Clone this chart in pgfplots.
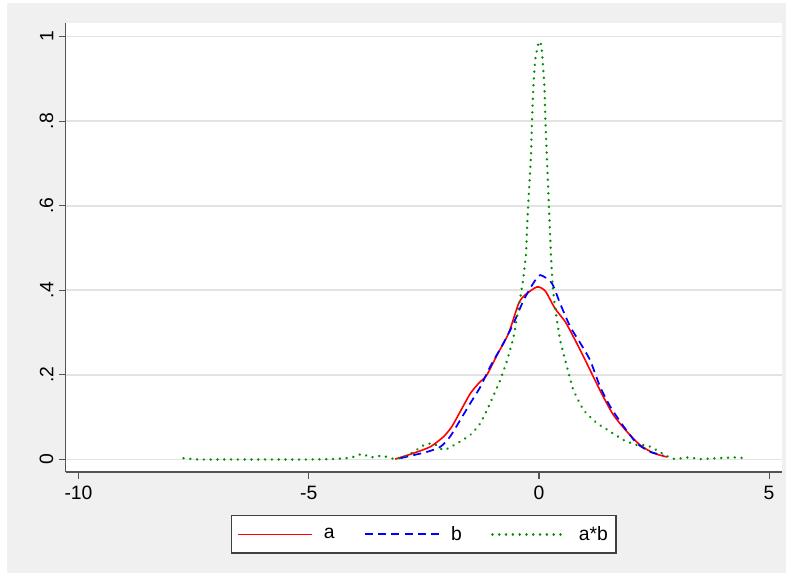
\documentclass[border=0pt]{standalone}
\usepackage{pgfplots}
\pgfplotsset{compat=1.18}
\usepackage{fontspec}
\setmainfont{Liberation Sans}
\definecolor{bggray}{gray}{0.94}
\definecolor{axgray}{gray}{0.33}
\definecolor{gridgray}{gray}{0.89}
\definecolor{stgreen}{rgb}{0.0,0.55,0.0}

\begin{document}
\begin{tikzpicture}
% page 791 x 576 px at 0.75pt per px
\fill[white] (0pt,0pt) rectangle (593.25pt,432pt);
\fill[bggray] (5.25pt,2.25pt) rectangle (589.5pt,429.75pt);
\begin{axis}[
  at={(49.2pt,78pt)}, anchor=south west,
  scale only axis, width=537.3pt, height=336.75pt,
  xmin=-10.28, xmax=5.28, ymin=-0.0296, ymax=1.032,
  axis x line*=bottom, axis y line*=left,
  axis line style={axgray, line width=1.2pt, -},
  axis background/.style={fill=white},
  xtick={-10,-5,0,5}, xticklabels={-10,-5,0,5},
  ytick={0,0.2,0.4,0.6,0.8,1}, yticklabels={0,.2,.4,.6,.8,1},
  tick align=outside, major tick length=5pt,
  tick style={axgray, line width=0.9pt},
  ymajorgrids, grid style={gridgray, line width=1.4pt},
  tick label style={font=\fontsize{14.5}{16}\selectfont},
  yticklabel style={rotate=90, anchor=south, inner sep=4pt},
  xticklabel style={inner sep=5.5pt},
  legend columns=3,
  legend style={at={(axis description cs:0.5,-0.0958)}, anchor=north,
    draw=black!75, line width=1pt, fill=white,
    font=\fontsize{14.5}{16}\selectfont, inner xsep=4pt, inner ysep=6pt,
    /tikz/every odd column/.append style={column sep=6pt},
    /tikz/every even column/.append style={column sep=20pt}},
  legend image code/.code={\draw[#1] (0pt,0pt) -- (56pt,0pt);},
]
\addplot[red, line width=1.2pt, smooth, tension=0.4] coordinates {
(-3.12,0.001)(-2.72,0.015)(-2.36,0.030)(-2.07,0.054)(-1.89,0.078)(-1.71,0.113)
(-1.49,0.156)(-1.31,0.180)(-1.13,0.200)(-0.91,0.247)(-0.66,0.298)(-0.44,0.369)
(-0.30,0.389)(-0.04,0.408)(0.14,0.398)(0.35,0.357)(0.57,0.326)(0.75,0.290)
(0.97,0.243)(1.18,0.196)(1.40,0.148)(1.62,0.105)(1.91,0.066)(2.20,0.034)
(2.49,0.015)(2.78,0.006)};
\addlegendentry{a}
\addplot[blue, line width=1.3pt, dash pattern=on 6pt off 4pt, smooth, tension=0.4] coordinates {
(-3.01,0.003)(-2.43,0.018)(-2.14,0.030)(-1.93,0.054)(-1.71,0.093)(-1.49,0.133)
(-1.27,0.172)(-1.06,0.219)(-0.77,0.275)(-0.55,0.322)(-0.33,0.377)(-0.12,0.417)
(0.03,0.436)(0.28,0.417)(0.46,0.369)(0.68,0.314)(0.90,0.275)(1.11,0.235)
(1.33,0.172)(1.55,0.125)(1.84,0.078)(2.13,0.038)(2.42,0.018)(2.70,0.010)};
\addlegendentry{b}
\addplot[stgreen, line width=1.9pt, line cap=round, dash pattern=on 0.1pt off 5pt, smooth, tension=0.3] coordinates {
(-7.72,0.003)(-7.4,0.000)(-7,0)(-6.5,0)(-6,0)(-5.5,0)(-5,0)(-4.5,0.001)(-4.1,0.004)
(-3.84,0.013)(-3.66,0.005)(-3.50,0.008)(-3.37,0.008)(-3.12,0.001)(-2.90,0.008)
(-2.72,0.018)(-2.50,0.034)(-2.29,0.038)(-2.07,0.022)(-1.78,0.038)(-1.49,0.058)
(-1.27,0.086)(-1.06,0.133)(-0.84,0.188)(-0.69,0.235)(-0.55,0.290)(-0.44,0.360)
(-0.35,0.420)(-0.28,0.487)(-0.25,0.566)(-0.21,0.645)(-0.17,0.724)(-0.15,0.803)
(-0.12,0.881)(-0.08,0.945)(0.00,0.988)(0.05,0.980)(0.08,0.945)(0.12,0.881)
(0.14,0.803)(0.17,0.724)(0.20,0.645)(0.23,0.566)(0.26,0.487)(0.30,0.409)
(0.35,0.361)(0.46,0.283)(0.61,0.219)(0.75,0.164)(0.97,0.117)(1.26,0.086)
(1.55,0.066)(1.84,0.046)(2.13,0.034)(2.34,0.034)(2.56,0.022)(2.78,0.008)
(2.96,0.001)(3.25,0.005)(3.50,0.001)(3.86,0.003)(4.30,0.005)(4.45,0.003)};
\addlegendentry{a*b}
\end{axis}
\end{tikzpicture}
\end{document}
